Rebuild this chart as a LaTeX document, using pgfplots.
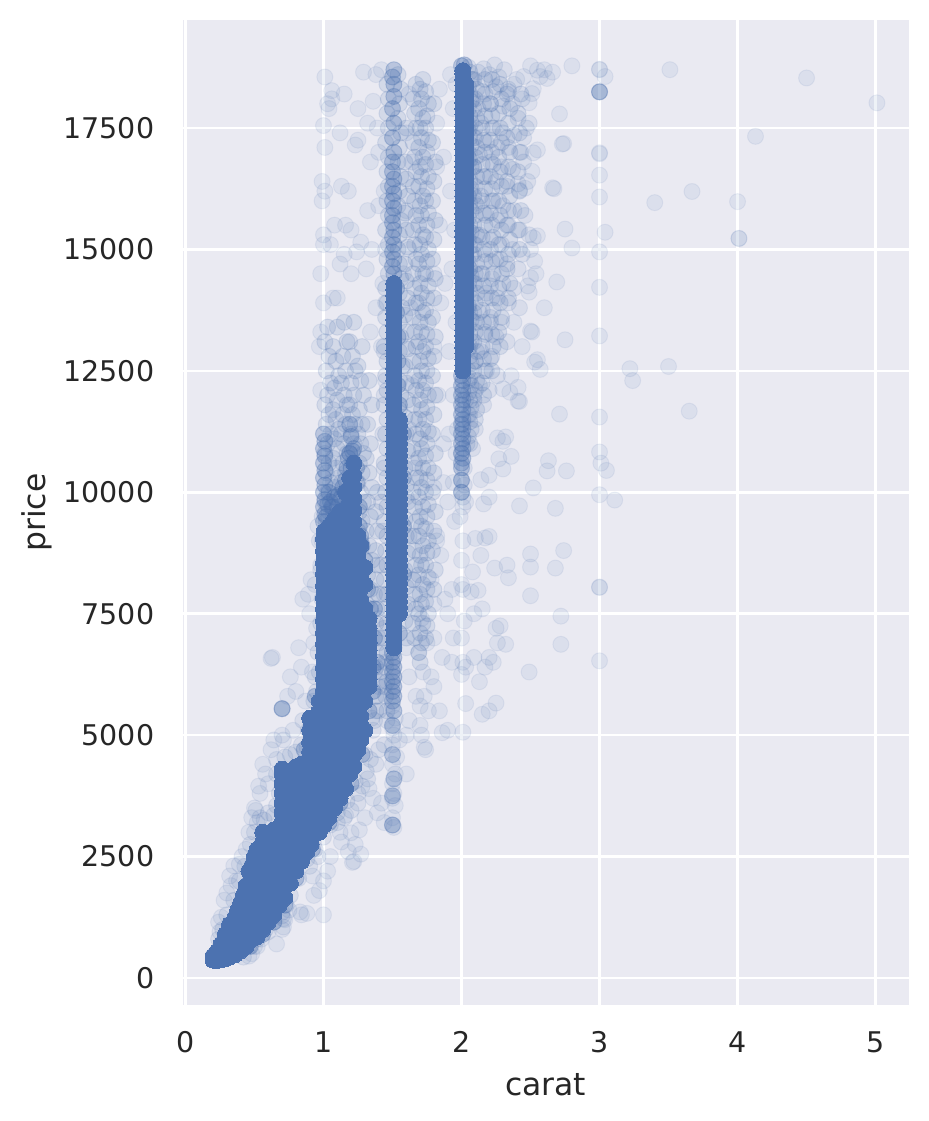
\documentclass[border=0pt]{standalone}
\usepackage{fontspec}
\setmainfont{DejaVu Sans}
\usepackage{pgfplots}
\pgfplotsset{compat=1.18}
\definecolor{sbblue}{HTML}{4C72B0}
\definecolor{sbbg}{HTML}{EAEAF2}
\definecolor{sbtext}{HTML}{262626}
\begin{document}
\begin{tikzpicture}[x=1bp,y=1bp]
\useasboundingbox (-182.7bp,-116bp) rectangle (746.3bp,1005bp);
\begin{axis}[
  at={(0,0)},anchor=south west,
  scale only axis,width=726bp,height=984.5bp,
  xmin=-0.02,xmax=5.24,ymin=-556,ymax=19714,
  axis background/.style={fill=sbbg},
  axis line style={draw=none},
  grid=major,grid style={white,line width=2.5bp},
  major tick length=0pt,
  xtick={0,1,2,3,4,5},
  ytick={0,2500,5000,7500,10000,12500,15000,17500},
  scaled y ticks=false,
  /pgf/number format/assume math mode=true,
  /pgf/number format/1000 sep={},
  tick label style={font=\fontsize{28.6}{32}\selectfont,text=sbtext},
  xticklabel style={yshift=-23bp},
  yticklabel style={xshift=-25bp},
  xlabel={carat},ylabel={price},
  label style={font=\fontsize{31.5}{36}\selectfont,text=sbtext},
  xlabel style={yshift=-14bp},
  ylabel style={yshift=5bp},
  clip=true,
]
% faint single diamonds
\addplot[only marks,mark=*,mark size=8bp,mark options={draw=sbblue,fill=sbblue,opacity=0.09,line width=1bp}] coordinates {
(5.01,18018)(4.5,18531)(4.13,17329)(3.51,18701)(3.0,18240)(3.0,18250)(3.0,18700)(3.0,18710)(3.04,18560)(2.8,18780)
(3.4,15964)(3.67,16193)(4.0,15984)(4.01,15223)(4.01,15230)(3.04,15354)(3.0,16080)(3.0,16530)(3.0,16970)(3.0,16990)
(3.0,14950)(3.0,14220)(3.0,13220)(3.22,12545)(3.24,12300)(3.5,12590)(3.65,11670)(3.0,11550)(3.0,10830)(3.01,10600)
(3.05,10450)(3.0,9950)(3.11,9840)(3.0,8040)(3.0,8050)(3.0,6530)(2.72,7450)(2.72,6870)(2.49,6300)(2.74,8800)
(2.68,8440)(2.5,7870)(2.5,8730)(2.5,8460)(2.33,8500)(2.34,8240)(2.24,8440)(2.42,9720)(2.52,10090)(2.63,10650)
(2.62,10440)(2.76,10440)(2.68,9670)(2.71,11610)(2.75,13140)(2.6,13800)(2.55,12730)(2.53,12680)(2.57,12530)(2.69,14330)
(2.54,14500)(2.8,15030)(2.75,15420)(2.66,16270)(2.67,16250)(2.73,17170)(2.74,17180)(2.71,17790)(2.66,18650)(2.6,18700)
(2.55,18690)(2.5,18780)(2.62,18520)(2.57,18560)(2.52,18310)(2.51,18210)(2.49,18020)(2.45,18560)(2.4,18500)(2.38,18400)
(2.52,16990)(2.55,17050)(2.51,16610)(2.46,16260)(2.42,16220)(2.5,15000)(2.53,14760)(2.52,15240)(2.48,14250)(2.55,15280)
(2.5,14420)(2.49,14120)(2.51,13300)(2.5,13320)(2.38,13500)(2.44,13000)(2.36,12400)(2.41,12160)(2.3,12130)(2.35,12060)
(2.42,11870)(2.41,11880)(2.32,11140)(2.3,11050)(2.26,11120)(2.36,10740)(2.3,10480)(2.27,10690)(2.2,10350)(2.14,10260)
(2.2,9900)(2.16,9760)(2.1,9050)(2.17,9060)(2.2,9090)(2.14,8700)(2.08,8360)(2.07,7950)(2.12,7980)(2.09,7500)
(2.15,7600)(2.25,7200)(2.28,7250)(2.26,6900)(2.32,6870)(2.2,6600)(2.17,6400)(2.23,6500)(2.13,6100)(2.09,6600)
(2.25,5660)(2.2,5500)(2.15,5430)(2.01,5060)(2.03,5650)(2.0,6250)(2.01,6500)(2.03,6400)(2.0,7000)(2.02,7350)
(2.0,8100)(2.01,8000)(2.0,8600)(2.01,9000)(1.99,9500)(2.03,9800)(2.01,9700)(1.95,9400)(1.93,8000)(1.9,7500)
(1.94,7000)(1.93,6500)(1.9,5100)(1.86,6600)(1.84,5500)(1.86,5050)(1.88,7800)(1.85,8700)(1.82,9100)(1.9,9800)
(1.94,10200)(1.96,10800)(1.91,11200)(1.87,10200)(1.8,6000)(1.8,7000)(1.78,6200)(1.76,5500)(1.74,4700)(1.73,4750)
(1.71,5000)(1.7,5200)(1.73,5800)(1.7,5600)(1.72,6300)(1.69,6700)(1.75,6900)(1.71,7400)(1.67,5800)(1.62,5300)
(1.6,4200)(1.6,5000)(1.62,6200)(1.6,6800)(1.55,4900)(1.51,3100)(1.5,3150)(1.5,3300)(1.52,3550)(1.5,3700)
(1.51,3800)(1.5,4000)(1.52,4200)(1.5,4400)(1.53,4550)(1.5,4800)(1.51,5000)(1.5,5150)(1.52,5350)(1.5,5600)
(1.44,3200)(1.42,3600)(1.39,3400)(1.36,3700)(1.33,3900)(1.3,3300)(1.26,3050)(1.23,2750)(1.27,2550)(1.22,2400)
(1.21,2380)(1.18,2600)(1.13,2800)(1.12,3000)(1.2,2990)(1.16,3350)(1.05,2500)(1.03,2200)(1.0,2000)(1.0,1300)
(0.97,1800)(0.93,1700)(0.92,2100)(0.88,1330)(0.84,1300)(0.83,1360)(0.71,1050)(0.7,1000)(0.72,1200)(0.75,1400)
(0.66,700)(0.52,650)(0.5,650)(0.46,450)(0.48,500)(0.55,800)(0.6,950)(0.39,2340)(0.35,2310)(0.3,1750)(0.26,1250)
(0.28,1600)(0.25,950)(0.24,1150)(0.33,1900)(0.32,2100)(0.37,2000)(0.41,2500)(0.44,2650)(0.46,3000)(0.48,3300)
(0.5,3500)(0.52,3200)(0.51,3450)(0.53,3950)(0.54,3800)(0.58,4200)(0.56,4400)(0.6,4000)(0.62,4700)(0.64,4900)
(0.66,4500)(0.7,5000)(0.7,5540)(0.7,5550)(0.71,4900)(0.62,6580)(0.63,6600)(0.74,5800)(0.78,5100)(0.8,5900)
(0.76,6200)(0.82,6800)(0.84,6400)(0.85,7800)(0.89,7900)(0.9,7500)(0.91,8200)(0.92,6300)(0.95,7200)(0.94,8100)
(0.96,9300)(0.98,8500)(0.99,9000)(0.93,6900)(0.87,5700)(0.98,12100)(0.97,13000)(0.98,13300)(1.0,13900)
(0.98,14500)(1.0,15100)(1.0,15300)(0.99,16000)(0.99,16400)(1.01,16200)(1.01,17100)(1.0,17550)(1.03,18000)(1.04,17900)
(1.06,18270)(1.06,18100)(1.01,18550)(1.12,17400)(1.15,18200)(1.13,16300)(1.18,16200)(1.2,15400)(1.25,17900)(1.25,17250)
(1.29,18650)(1.23,17150)(1.32,17600)(1.38,18600)(1.42,18700)(1.36,18050)(1.39,17500)(1.4,17000)(1.34,16800)(1.32,15800)
(1.12,14700)(1.05,15100)(1.08,15500)(1.15,14900)(1.16,15500)(1.1,14000)(1.07,14000)(1.24,14950)(1.27,15150)(1.2,14500)
(1.31,14600)(1.35,15000)(1.4,15900)(1.44,16200)(1.45,15000)(1.43,14300)(1.38,13800)(1.34,13300)(1.42,13000)(1.45,12300)
(1.62,18200)(1.6,17400)(1.64,16800)(1.6,15800)(1.62,15000)(1.58,14500)(1.63,13800)(1.6,13000)(1.64,12200)(1.62,11300)
(1.66,10500)(1.6,9900)(1.62,9100)(1.65,8200)(1.59,7600)(1.82,17600)(1.84,18300)(1.82,16700)(1.84,15500)(1.8,14500)
(1.85,13900)(1.8,13000)(1.83,12000)(1.87,11000)(1.8,10100)(1.82,9000)(1.78,8200)(1.8,7700)(1.92,18600)(1.94,17900)
(1.96,18400)(1.92,16200)(1.95,15400)(1.93,14600)(1.96,13500)(1.91,12900)(1.94,12000)(1.97,11300)(1.88,14300)(1.87,16900)
};
% clouds
\addplot[only marks,mark=*,mark size=8bp,mark options={draw=sbblue,fill=sbblue,opacity=0.11,line width=1bp}] coordinates {
(2.05,18750)(2.08,18500)(2.12,18650)(2.16,18720)(2.2,18600)(2.24,18800)(2.27,18550)(2.31,18700)(2.34,18300)(2.08,18100)
(2.12,17900)(2.17,18200)(2.21,18000)(2.25,18350)(2.3,17950)(2.34,18250)(2.37,18000)(2.41,17700)(2.44,18100)(2.47,17500)
(2.06,17500)(2.1,17300)(2.14,17600)(2.18,17200)(2.22,17500)(2.26,17100)(2.3,17400)(2.34,17100)(2.38,17350)(2.42,17000)
(2.45,17300)(2.49,17600)(2.05,16900)(2.09,16700)(2.13,16950)(2.17,16500)(2.21,16800)(2.25,16400)(2.29,16700)(2.33,16300)
(2.37,16650)(2.41,16350)(2.45,16800)(2.48,16400)(2.06,16200)(2.1,15950)(2.14,16100)(2.18,15700)(2.22,16000)(2.26,15600)
(2.3,15900)(2.34,15500)(2.38,15800)(2.42,15400)(2.46,15700)(2.49,15300)(2.05,15400)(2.09,15100)(2.13,15300)(2.17,14900)
(2.21,15200)(2.25,14800)(2.29,15100)(2.33,14700)(2.37,15000)(2.41,14600)(2.44,14900)(2.06,14600)(2.1,14300)(2.14,14500)
(2.18,14100)(2.22,14400)(2.26,14000)(2.3,14300)(2.34,13900)(2.38,14200)(2.42,13800)(2.05,13800)(2.09,13500)(2.13,13700)
(2.17,13300)(2.21,13600)(2.25,13200)(2.29,13500)(2.33,13100)(2.06,13000)(2.1,12700)(2.14,12900)(2.18,12500)(2.22,12800)
(2.26,12400)(2.05,12300)(2.09,12000)(2.13,12200)(2.16,11800)(2.2,12100)(2.06,11600)(2.1,11300)(2.04,11000)(2.02,10500)
(2.0,10250)(2.02,10150)(2.01,11400)(2.0,10800)(2.03,11900)(2.08,10900)(2.01,9900)(2.0,10000)
(1.36,5100)(1.38,4400)(1.34,4500)(1.32,4100)(1.28,3950)(1.25,3600)(1.2,3450)(1.4,5500)(1.46,5300)(1.44,4800)(1.4,4700)
(1.37,7900)(1.4,7400)(1.4,6900)(1.41,6300)(1.38,5800)(1.37,5300)(0.99,9500)(0.97,9000)(0.98,8400)(0.99,7800)(0.98,7300)(0.96,6700)(0.97,6300)(0.95,5900)
(0.93,5700)(0.94,6200)(0.89,5100)(0.88,4750)(0.84,4800)(0.85,5300)(0.8,4650)(0.76,4600)(0.72,4550)(0.66,4200)(0.68,3800)
(0.66,3550)(0.64,3350)(0.6,3400)(0.57,3250)(0.54,3300)(0.5,3000)(0.47,2750)(0.43,2300)(0.39,2000)(0.35,1600)(0.3,1300)
(0.27,1000)(0.24,800)(0.42,430)(0.46,650)(0.52,800)(0.58,1000)(0.64,1150)(0.7,1350)(0.76,1700)(0.82,2050)(0.88,2450)
(0.94,2650)(1.0,2900)(1.05,3150)(1.1,3400)(1.17,3650)(1.23,4050)(1.3,4600)(1.35,5350)(0.7,1280)(0.71,1220)(0.73,1500)
(0.9,2300)(0.96,2500)(1.1,3200)(1.15,3300)(1.25,3800)(1.31,4250)(1.37,6300)(1.4,6000)
(1.45,13900)(1.44,12900)(1.44,12000)(1.43,11200)(1.44,10500)(1.42,9800)(1.43,9200)(1.42,8500)(1.44,7900)(1.44,7200)(1.45,6500)(1.44,6000)
};
% haze over the columns
\addplot[only marks,mark=*,mark size=8bp,mark options={draw=sbblue,fill=sbblue,opacity=0.14,line width=1bp}] coordinates {
(1.02,9400)(1.04,9600)(1.01,9800)(1.03,10000)(1.05,10200)(1.02,10400)(1.04,10600)(1.01,10800)(1.03,11000)(1.05,11200)(1.02,11400)(1.04,11600)(1.01,11800)(1.03,12000)(1.05,12250)(1.02,12500)(1.04,12800)(1.01,13100)(1.03,13400)
(1.09,9500)(1.07,9700)(1.1,9900)(1.08,10100)(1.11,10300)(1.09,10500)(1.07,10700)(1.1,10900)(1.08,11100)(1.11,11300)(1.09,11500)(1.07,11700)(1.1,11900)(1.08,12150)(1.11,12400)(1.09,12700)(1.07,13000)(1.1,13400)
(1.15,10000)(1.13,10200)(1.16,10400)(1.14,10600)(1.17,10800)(1.15,11000)(1.13,11200)(1.16,11400)(1.14,11600)(1.17,11800)(1.15,12000)(1.13,12250)(1.16,12500)(1.14,12800)(1.17,13100)(1.15,13500)
(1.21,10600)(1.19,10800)(1.22,11000)(1.2,11200)(1.23,11400)(1.21,11600)(1.19,11800)(1.22,12000)(1.2,12250)(1.23,12500)(1.21,12800)(1.19,13100)(1.22,13500)
(1.27,9000)(1.25,9200)(1.28,9400)(1.26,9600)(1.29,9800)(1.27,10000)(1.25,10200)(1.28,10400)(1.26,10600)(1.29,10800)(1.27,11000)(1.25,11200)(1.28,11400)(1.26,11700)(1.29,12000)(1.27,12300)(1.25,12600)(1.28,13000)
(1.33,7400)(1.31,7700)(1.34,8000)(1.32,8300)(1.35,8600)(1.33,8900)(1.31,9200)(1.34,9500)(1.32,9800)(1.35,10100)(1.33,10400)(1.31,10700)(1.34,11000)(1.32,11400)(1.35,11800)(1.33,12300)
(1.38,5500)(1.39,5800)(1.4,6100)(1.38,6400)(1.39,6700)(1.4,7000)(1.38,7300)(1.39,7600)(1.4,7900)(1.38,8200)(1.39,8500)(1.38,8800)(1.39,9200)(1.38,9600)(1.39,10000)
(1.46,5500)(1.45,5800)(1.46,6100)(1.45,6400)(1.46,6700)(1.44,7000)(1.46,7300)(1.45,7600)(1.46,7900)(1.44,8200)(1.46,8500)(1.45,8800)(1.46,9100)(1.44,9400)(1.46,9700)(1.45,10000)(1.46,10300)(1.44,10600)(1.46,10900)(1.45,11200)(1.46,11500)(1.44,11800)(1.46,12100)(1.45,12400)(1.46,12700)(1.44,13000)(1.46,13300)(1.45,13600)(1.46,13900)(1.45,14200)
(1.47,14500)(1.46,14800)(1.47,15100)(1.45,15400)(1.47,15700)(1.46,16000)(1.47,16300)(1.46,16600)(1.47,16900)(1.45,17200)(1.47,17500)(1.46,17800)(1.47,18100)(1.46,18400)
(1.55,11700)(1.56,12000)(1.55,12300)(1.57,12600)(1.55,12900)(1.56,13200)(1.55,13500)(1.57,13800)(1.55,14100)(1.56,14400)(1.55,14700)(1.54,15000)(1.55,15300)(1.56,15600)(1.54,15900)(1.55,16200)(1.56,16500)(1.54,16800)(1.55,17100)(1.56,17400)(1.54,17700)(1.55,18000)(1.56,18300)(1.54,18600)
(1.6,7000)(1.59,7350)(1.61,7700)(1.6,8050)(1.59,8400)(1.61,8750)(1.6,9100)(1.59,9450)(1.61,9800)(1.6,10150)(1.59,10500)(1.61,10850)(1.6,11200)(1.59,11550)(1.61,11900)(1.6,12250)(1.59,12600)(1.61,12950)(1.6,13300)(1.59,13650)(1.61,14000)(1.6,14350)(1.59,14700)(1.61,15050)(1.6,15400)(1.59,15750)(1.61,16100)(1.6,16450)(1.59,16800)(1.6,17500)
(1.66,7000)(1.65,7300)(1.67,7600)(1.66,7900)(1.65,8200)(1.67,8500)(1.66,8800)(1.65,9100)(1.67,9400)(1.66,9700)(1.65,10000)(1.67,10300)(1.66,10600)(1.65,10900)(1.67,11200)(1.66,11500)(1.65,11800)(1.67,12100)(1.66,12400)(1.65,12700)(1.67,13000)(1.66,13300)(1.65,13600)(1.67,13900)(1.66,14200)(1.65,14500)(1.67,14800)(1.66,15100)(1.65,15400)(1.67,15700)(1.66,16000)(1.65,16300)(1.67,16600)(1.66,16900)(1.65,17200)(1.67,17500)(1.66,17800)(1.65,18100)(1.67,18400)
(1.7,6500)(1.69,6700)(1.71,6900)(1.7,7100)(1.72,7300)(1.69,7500)(1.71,7700)(1.7,7900)(1.72,8100)(1.69,8300)(1.71,8500)(1.7,8700)(1.72,8900)(1.69,9100)(1.71,9300)(1.7,9500)(1.72,9700)(1.69,9900)(1.71,10100)(1.7,10300)(1.72,10500)(1.69,10700)(1.71,10900)(1.7,11100)(1.72,11300)(1.69,11500)(1.71,11700)(1.7,11900)(1.72,12100)(1.69,12300)(1.71,12500)(1.7,12700)(1.72,12900)(1.69,13100)(1.71,13300)(1.7,13500)(1.72,13700)(1.69,13900)(1.71,14100)(1.7,14300)(1.72,14500)(1.69,14700)(1.71,14900)(1.7,15100)(1.72,15300)(1.69,15500)(1.71,15700)(1.7,15900)(1.72,16100)(1.69,16300)(1.71,16500)(1.7,16700)(1.72,16900)(1.69,17100)(1.71,17300)(1.7,17500)(1.72,17700)(1.69,17900)(1.71,18100)(1.7,18300)(1.72,18500)
(1.74,7000)(1.75,7250)(1.76,7500)(1.74,7750)(1.75,8000)(1.76,8250)(1.74,8500)(1.75,8750)(1.76,9000)(1.74,9250)(1.75,9500)(1.76,9750)(1.74,10000)(1.75,10250)(1.76,10500)(1.74,10750)(1.75,11000)(1.76,11250)(1.74,11500)(1.75,11750)(1.76,12000)(1.74,12250)(1.75,12500)(1.76,12750)(1.74,13000)(1.75,13250)(1.76,13500)(1.74,13750)(1.75,14000)(1.76,14250)(1.74,14500)(1.75,14750)(1.76,15000)(1.74,15250)(1.75,15500)(1.76,15750)(1.74,16000)(1.75,16250)(1.76,16500)(1.74,16750)(1.75,17000)(1.76,17250)(1.74,17500)(1.75,17750)(1.76,18000)(1.74,18250)
(1.8,8000)(1.81,8400)(1.79,8800)(1.8,9200)(1.81,9600)(1.79,10000)(1.8,10400)(1.81,10800)(1.79,11200)(1.8,11600)(1.81,12000)(1.79,12400)(1.8,12800)(1.81,13200)(1.79,13600)(1.8,14000)(1.81,14400)(1.79,14800)(1.8,15200)(1.81,15600)(1.79,16000)(1.8,16400)(1.81,16800)(1.79,17200)(1.8,18000)
(2.06,11000)(2.05,11150)(2.07,11300)(2.06,11450)(2.05,11600)(2.07,11750)(2.06,11900)(2.05,12050)(2.07,12200)(2.06,12350)(2.05,12500)(2.07,12650)(2.06,12800)(2.05,12950)(2.07,13100)(2.06,13250)(2.05,13400)(2.07,13550)(2.06,13700)(2.05,13850)(2.07,14000)(2.06,14150)(2.05,14300)(2.07,14450)(2.06,14600)(2.05,14750)(2.07,14900)(2.06,15050)(2.05,15200)(2.07,15350)(2.06,15500)(2.05,15650)(2.07,15800)(2.06,15950)(2.05,16100)(2.07,16250)(2.06,16400)(2.05,16550)(2.07,16700)(2.06,16850)(2.05,17000)(2.07,17150)(2.06,17300)(2.05,17450)(2.07,17600)(2.06,17750)(2.05,17900)(2.07,18050)(2.06,18200)(2.05,18350)(2.07,18500)(2.06,18650)
(2.1,11500)(2.11,11700)(2.09,11900)(2.1,12100)(2.11,12300)(2.09,12500)(2.1,12700)(2.11,12900)(2.09,13100)(2.1,13300)(2.11,13500)(2.09,13700)(2.1,13900)(2.11,14100)(2.09,14300)(2.1,14500)(2.11,14700)(2.09,14900)(2.1,15100)(2.11,15300)(2.09,15500)(2.1,15700)(2.11,15900)(2.09,16100)(2.1,16300)(2.11,16500)(2.09,16700)(2.1,16900)(2.11,17100)(2.09,17300)(2.1,17500)(2.11,17700)(2.09,17900)(2.1,18100)(2.11,18300)(2.09,18500)
(2.16,12000)(2.15,12250)(2.17,12500)(2.16,12750)(2.15,13000)(2.17,13250)(2.16,13500)(2.15,13750)(2.17,14000)(2.16,14250)(2.15,14500)(2.17,14750)(2.16,15000)(2.15,15250)(2.17,15500)(2.16,15750)(2.15,16000)(2.17,16250)(2.16,16500)(2.15,16750)(2.17,17000)(2.16,17250)(2.15,17500)(2.17,17750)(2.16,18000)(2.15,18250)(2.17,18500)
(2.22,12500)(2.21,12750)(2.23,13000)(2.22,13250)(2.21,13500)(2.23,13750)(2.22,14000)(2.21,14250)(2.23,14500)(2.22,14750)(2.21,15000)(2.23,15250)(2.22,15500)(2.21,15750)(2.23,16000)(2.22,16250)(2.21,16500)(2.23,16750)(2.22,17000)(2.21,17250)(2.23,17500)(2.22,17750)(2.21,18000)(2.23,18250)(2.22,18500)
(2.28,13000)(2.27,13300)(2.29,13600)(2.28,13900)(2.27,14200)(2.29,14500)(2.28,14800)(2.27,15100)(2.29,15400)(2.28,15700)(2.27,16000)(2.29,16300)(2.28,16600)(2.27,16900)(2.29,17200)(2.28,17500)(2.27,17800)(2.29,18100)(2.28,18400)
(2.34,14000)(2.35,14300)(2.33,14600)(2.34,14900)(2.35,15200)(2.33,15500)(2.34,15800)(2.35,16100)(2.33,16400)(2.34,16700)(2.35,17000)(2.33,17300)(2.34,17600)(2.35,17900)(2.33,18200)
(2.42,15000)(2.41,15400)(2.43,15800)(2.42,16200)(2.41,16600)(2.43,17000)(2.42,17400)(2.41,17800)(2.43,18200)
};
% darker bands
\addplot[only marks,mark=*,mark size=8bp,mark options={draw=sbblue,fill=sbblue,opacity=0.3,line width=1bp}] coordinates {
(1.51,14500)(1.5,14650)(1.51,14800)(1.5,14950)(1.51,15100)(1.5,15250)(1.51,15400)(1.5,15550)(1.5,15700)(1.51,15850)(1.5,16000)(1.51,16150)(1.5,16300)(1.51,16450)(1.5,16600)(1.5,16800)(1.51,17000)(1.5,17300)(1.51,17600)(1.5,17900)(1.51,18150)(1.51,18400)(1.5,18550)(1.51,18700)
(1.51,6800)(1.5,6700)(1.51,6600)(1.5,6500)(1.51,6400)(1.5,6300)(1.51,6200)(1.5,6100)(1.51,6000)(1.5,5900)(1.51,5800)(1.5,5700)(1.51,5500)(1.5,5200)(1.5,4600)(1.51,4100)(1.5,3750)(1.5,3150)
(2.0,12400)(2.01,12300)(2.0,12200)(2.01,12100)(2.0,12000)(2.01,11900)(2.0,11800)(2.01,11700)(2.0,11600)(2.01,11500)(2.0,11400)(2.01,11300)(2.0,11200)(2.01,11100)(2.0,11000)(2.01,10900)(2.0,10800)(2.01,10700)(2.0,10600)(2.0,10500)(2.0,10250)(2.0,10000)(2.0,18780)(2.02,18800)
(1.0,9400)(1.01,9550)(1.0,9700)(1.01,9850)(1.0,10000)(1.01,10150)(1.0,10300)(1.01,10450)(1.0,10600)(1.01,10750)(1.0,10900)(1.01,11050)(1.0,11200)(1.02,9500)(1.03,9750)(1.04,10000)(1.06,9700)(1.08,9900)(1.11,9950)(1.14,10100)
(1.16,10250)(1.19,10800)(1.2,11150)(1.21,10850)(1.24,10500)(1.17,10500)(1.26,9300)(1.26,9700)(1.24,10200)(1.19,11400)(1.2,10500)(1.22,10900)(1.18,10700)(1.27,9100)(1.28,8900)(1.3,8600)(1.32,8000)(1.34,7600)
(0.7,5545)(3.0,18245)(1.05,9800)(1.1,9700)(1.13,9900)(0.94,5800)(0.86,4700)(1.37,7600)(1.37,7000)(1.36,6400)
(1.33,5500)(1.39,6500)(1.36,5900)(1.28,4600)(1.2,4000)(1.12,3600)(1.04,3200)(0.92,2650)(.8,2050)(.72,1500)(.64,1150)(.56,900)(.47,650)
(1.55,7100)(1.55,11800)(1.54,12200)(1.54,12700)(1.54,13200)(1.53,13700)(1.53,14200)(1.58,8300)(1.58,9300)(1.58,10300)(1.58,11200)
};
% saturated core
\addplot[only marks,mark=*,mark size=8bp,mark options={draw=sbblue,fill=sbblue,opacity=1,line width=0bp}] coordinates {
(.2,370)(.2,450)(.23,360)(.23,550)(.26,380)(.26,700)(.29,400)(.29,900)(.32,430)(.32,650)(.32,1100)(.36,480)(.36,750)(.36,1000)(.36,1250)
(.40,560)(.40,800)(.40,1050)(.40,1300)(.40,1550)(.44,650)(.44,900)(.44,1150)(.44,1400)(.44,1650)(.44,1900)
(.48,800)(.48,1050)(.48,1300)(.48,1550)(.48,1800)(.48,2050)(.48,2300)
(.52,850)(.52,1075)(.52,1300)(.52,1525)(.52,1750)(.52,1975)(.52,2200)(.52,2425)(.52,2650)
(.56,1000)(.56,1900)(.56,2100)(.56,2300)(.56,2550)(.56,2800)(.56,3000)(.64,1300)(.64,2600)(.64,2850)(.64,3050)(.72,1650)(.72,1900)(.8,2200)(.8,2450)(.88,2600)(.88,2850)
(.34,560)(.34,800)(.38,650)(.38,1400)(.42,1700)(.46,2200)(.46,1950)(.5,2500)
(.60,1150)(.60,1375)(.60,1600)(.60,1825)(.60,2050)(.60,2275)(.60,2500)(.60,2725)(.60,2950)
(.68,1500)(.68,1725)(.68,1950)(.68,2175)(.68,2400)(.68,2625)(.68,2850)(.68,3100)
(.70,3200)(.70,3400)(.70,3600)(.70,3800)(.70,4000)(.70,4200)(.70,4300)(.71,3300)(.71,3525)(.71,3750)(.71,3975)(.71,4250)
(.76,1950)(.76,2175)(.76,2400)(.76,2625)(.76,2850)(.76,3075)(.76,3300)(.76,3525)(.76,3750)(.76,3975)(.76,4250)
(.84,2400)(.84,2625)(.84,2850)(.84,3075)(.84,3300)(.84,3525)(.84,3750)(.84,3975)(.84,4200)(.84,4400)
(.80,4350)(.80,4100)(.80,3850)(.80,3600)(.88,4000)(.88,4250)(.88,4450)
(.90,4450)(.90,4650)(.90,4850)(.90,5100)(.90,5350)
(.91,2750)(.91,2975)(.91,3200)(.91,3425)(.91,3650)(.91,3875)(.91,4100)(.91,4325)(.91,4550)(.91,4775)(.91,5000)(.91,5300)
(.97,3000)(.97,3225)(.97,3450)(.97,3675)(.97,3900)(.97,4125)(.97,4350)(.97,4575)(.97,4800)(.97,5025)(.97,5250)(.97,5500)(.97,5700)
(1.005,3150)(1.005,3390)(1.005,3630)(1.005,3870)(1.005,4110)(1.005,4350)(1.005,4590)(1.005,4830)(1.005,5070)(1.005,5310)(1.005,5550)(1.005,5790)(1.005,6030)(1.005,6270)(1.005,6510)(1.005,6750)(1.005,6990)(1.005,7230)(1.005,7470)(1.005,7710)(1.005,7950)(1.005,8190)(1.005,8430)(1.005,8670)(1.005,8910)(1.005,9200)
(1.0,5700)(1.0,5910)(1.0,6150)(1.0,6390)(1.0,6630)(1.0,6870)(1.0,7110)(1.0,7350)(1.0,7590)(1.0,7830)(1.0,8070)(1.0,8310)(1.0,8550)(1.0,8790)(1.0,9030)
(1.04,3300)(1.04,4000)(1.04,4800)(1.04,5600)(1.04,6400)(1.04,7200)(1.04,8000)(1.04,8800)(1.04,9300)
(1.12,3700)(1.12,4500)(1.12,5300)(1.12,6100)(1.12,6900)(1.12,7700)(1.12,8500)(1.12,9300)(1.12,9600)
(1.19,4200)(1.19,5000)(1.19,5800)(1.19,6600)(1.19,7400)(1.19,8200)(1.19,9000)(1.19,9800)(1.19,10300)
(1.25,4700)(1.25,5500)(1.25,6300)(1.25,7100)(1.25,7900)(1.25,8700)(1.25,9100)
(1.30,5100)(1.30,5700)(1.30,6400)(1.30,7100)(1.30,7600)(1.30,8100)(1.30,8450)
(1.08,3500)(1.08,3740)(1.08,3980)(1.08,4220)(1.08,4460)(1.08,4700)(1.08,4940)(1.08,5180)(1.08,5420)(1.08,5660)(1.08,5900)(1.08,6140)(1.08,6380)(1.08,6620)(1.08,6860)(1.08,7100)(1.08,7340)(1.08,7580)(1.08,7820)(1.08,8060)(1.08,8300)(1.08,8540)(1.08,8780)(1.08,9020)(1.08,9260)(1.08,9450)
(1.16,3900)(1.16,4140)(1.16,4380)(1.16,4620)(1.16,4860)(1.16,5100)(1.16,5340)(1.16,5580)(1.16,5820)(1.16,6060)(1.16,6300)(1.16,6540)(1.16,6780)(1.16,7020)(1.16,7260)(1.16,7500)(1.16,7740)(1.16,7980)(1.16,8220)(1.16,8460)(1.16,8700)(1.16,8940)(1.16,9180)(1.16,9420)(1.16,9660)(1.16,10000)
(1.22,4350)(1.22,4590)(1.22,4830)(1.22,5070)(1.22,5310)(1.22,5550)(1.22,5790)(1.22,6030)(1.22,6270)(1.22,6510)(1.22,6750)(1.22,6990)(1.22,7230)(1.22,7470)(1.22,7710)(1.22,7950)(1.22,8190)(1.22,8430)(1.22,8670)(1.22,8910)(1.22,9150)(1.22,9390)(1.22,9630)(1.22,9870)(1.22,10110)(1.22,10350)(1.22,10600)
(1.27,4900)(1.27,5140)(1.27,5380)(1.27,5620)(1.27,5860)(1.27,6100)(1.27,6340)(1.27,6580)(1.27,6820)(1.27,7060)(1.27,7300)(1.27,7540)(1.27,7780)(1.27,8020)(1.27,8260)(1.27,8500)(1.27,8900)
(1.33,6000)(1.33,6150)(1.33,6300)(1.33,6450)(1.33,6600)(1.33,6750)(1.33,6900)(1.33,7050)(1.33,7200)(1.33,7400)
(1.51,6800)(1.51,6925)(1.51,7050)(1.51,7175)(1.51,7300)(1.51,7425)(1.51,7550)(1.51,7675)(1.51,7800)(1.51,7925)(1.51,8050)(1.51,8175)(1.51,8300)(1.51,8425)(1.51,8550)(1.51,8675)(1.51,8800)(1.51,8925)(1.51,9050)(1.51,9175)(1.51,9300)(1.51,9425)(1.51,9550)(1.51,9675)(1.51,9800)(1.51,9925)(1.51,10050)(1.51,10175)(1.51,10300)(1.51,10425)(1.51,10550)(1.51,10675)(1.51,10800)(1.51,10925)(1.51,11050)(1.51,11175)(1.51,11300)(1.51,11425)(1.51,11550)(1.51,11675)(1.51,11800)(1.51,11925)(1.51,12050)(1.51,12175)(1.51,12300)(1.51,12425)(1.51,12550)(1.51,12675)(1.51,12800)(1.51,12925)(1.51,13050)(1.51,13175)(1.51,13300)(1.51,13425)(1.51,13550)(1.51,13675)(1.51,13800)(1.51,13925)(1.51,14050)(1.51,14175)(1.51,14300)
(1.55,7500)(1.55,7625)(1.55,7750)(1.55,7875)(1.55,8000)(1.55,8125)(1.55,8250)(1.55,8375)(1.55,8500)(1.55,8625)(1.55,8750)(1.55,8875)(1.55,9000)(1.55,9125)(1.55,9250)(1.55,9375)(1.55,9500)(1.55,9625)(1.55,9750)(1.55,9875)(1.55,10000)(1.55,10125)(1.55,10250)(1.55,10375)(1.55,10500)(1.55,10625)(1.55,10750)(1.55,10875)(1.55,11000)(1.55,11125)(1.55,11250)(1.55,11375)(1.55,11500)
(2.01,12500)(2.01,12620)(2.01,12740)(2.01,12860)(2.01,12980)(2.01,13100)(2.01,13220)(2.01,13340)(2.01,13460)(2.01,13580)(2.01,13700)(2.01,13820)(2.01,13940)(2.01,14060)(2.01,14180)(2.01,14300)(2.01,14420)(2.01,14540)(2.01,14660)(2.01,14780)(2.01,14900)(2.01,15020)(2.01,15140)(2.01,15260)(2.01,15380)(2.01,15500)(2.01,15620)(2.01,15740)(2.01,15860)(2.01,15980)(2.01,16100)(2.01,16220)(2.01,16340)(2.01,16460)(2.01,16580)(2.01,16700)(2.01,16820)(2.01,16940)(2.01,17060)(2.01,17180)(2.01,17300)(2.01,17420)(2.01,17540)(2.01,17660)(2.01,17780)(2.01,17900)(2.01,18020)(2.01,18140)(2.01,18260)(2.01,18380)(2.01,18500)(2.01,18620)(2.01,18680)
(2.03,13000)(2.03,13150)(2.03,13300)(2.03,13450)(2.03,13600)(2.03,13750)(2.03,13900)(2.03,14050)(2.03,14200)(2.03,14350)(2.03,14500)(2.03,14650)(2.03,14800)(2.03,14950)(2.03,15100)(2.03,15250)(2.03,15400)(2.03,15550)(2.03,15700)(2.03,15850)(2.03,16000)(2.03,16150)(2.03,16300)(2.03,16450)(2.03,16600)(2.03,16750)(2.03,16900)(2.03,17050)(2.03,17200)(2.03,17350)(2.03,17500)(2.03,17650)(2.03,17800)(2.03,17950)(2.03,18100)(2.03,18250)(2.03,18400)
};
\end{axis}
\end{tikzpicture}
\end{document}
